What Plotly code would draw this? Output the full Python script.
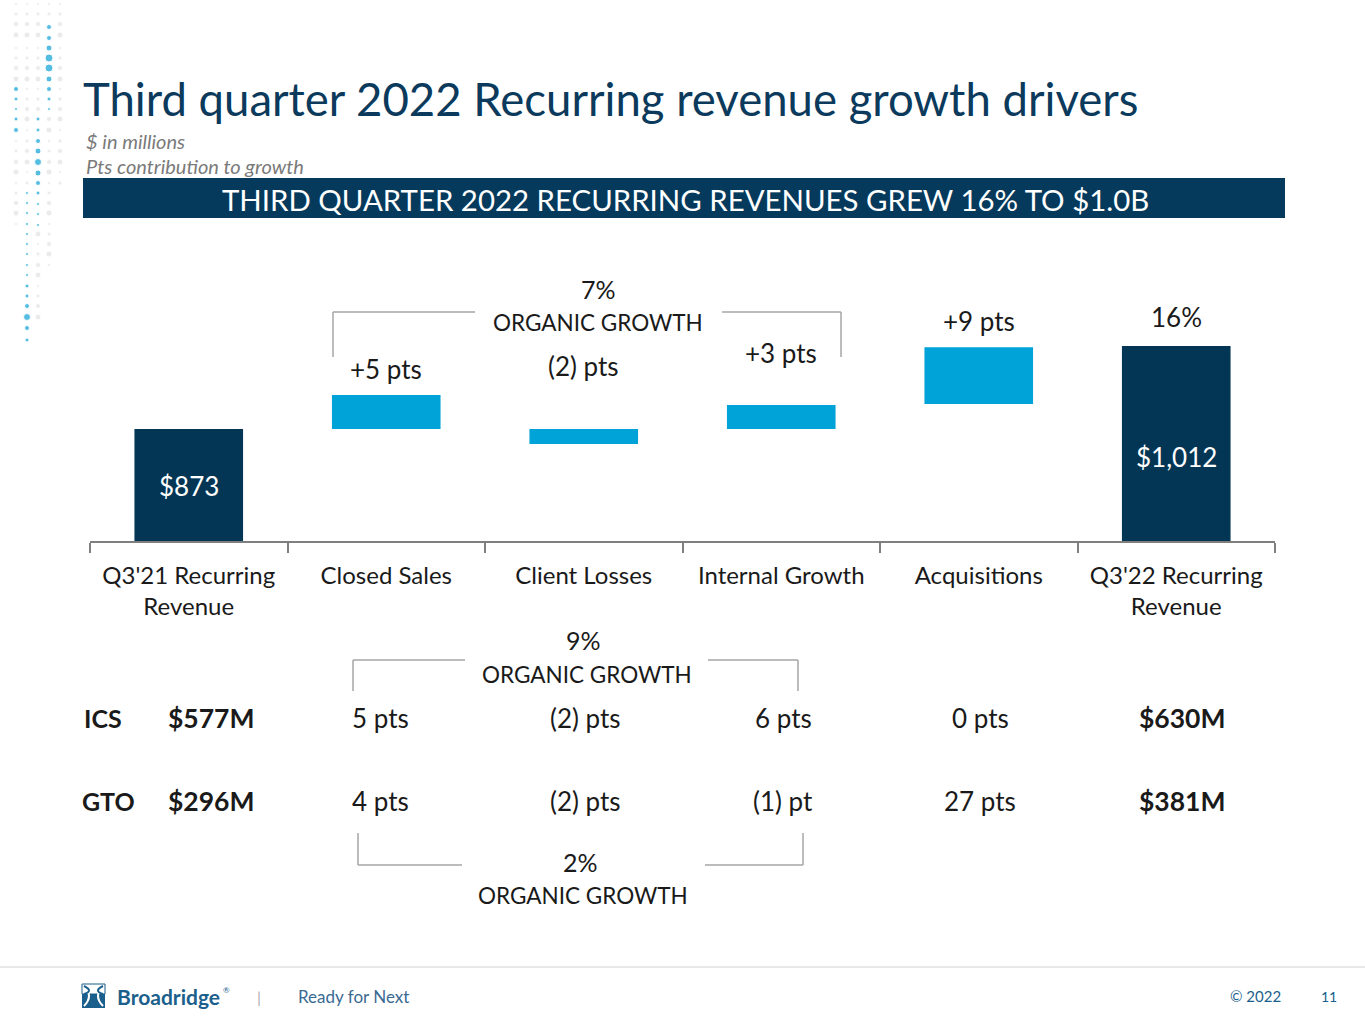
import plotly.graph_objects as go

# page size in px
W, H = 1365, 1024

# --- chart data ($ in millions) ---
categories = ["Q3'21 Recurring<br>Revenue", "Closed Sales", "Client Losses",
              "Internal Growth", "Acquisitions", "Q3'22 Recurring<br>Revenue"]
axis_floor = 685.4
bar_bottom = [axis_floor, 873, 848, 873, 915, axis_floor]
bar_top = [873, 930, 873, 913, 1010, 1012]
bar_kind = ["total", "delta", "delta", "delta", "delta", "total"]
inside_labels = ["$873", "", "", "", "", "$1,012"]
inside_label_y = [486, 0, 0, 0, 0, 457]  # px on the slide
top_labels = ["", "+5 pts", "(2) pts", "+3 pts", "+9 pts", "16%"]
top_label_y = [0, 369, 366, 353, 321, 317]  # px on the slide

# segment table under the chart
seg_names = ["ICS", "GTO"]
seg_start = ["$577M", "$296M"]
seg_pts = [["5 pts", "(2) pts", "6 pts", "0 pts"],
           ["4 pts", "(2) pts", "(1) pt", "27 pts"]]
seg_end = ["$630M", "$381M"]
organic = ["7%", "9%", "2%"]

NAVY = "#033654"
BLUE = "#00a3d7"
TXT = "#1a1a1a"
GRAY = "#a6a6a6"
FONT = "Lato"


def px(x):
    return x / W


def py(y):
    return 1 - y / H


fig = go.Figure()

colors = [NAVY if k == "total" else BLUE for k in bar_kind]
fig.add_trace(go.Bar(
    x=categories, y=[t - b for t, b in zip(bar_top, bar_bottom)], base=bar_bottom, width=0.55,
    marker=dict(color=colors, line=dict(width=0)),
    hoverinfo="skip", showlegend=False,
))

# decorative dot pattern top-left (separate full-page axis in pixels)
dots_blue = [(49, y, s) for y, s in zip([27, 38, 48, 58, 68, 79, 89, 99, 109], [5, 5, 6, 8, 8, 6, 5, 4, 3])]
dots_blue += [(16, y, s) for y, s in zip([89, 99, 109, 119, 130], [5, 4, 3, 4, 5])]
dots_blue += [(38, y, s) for y, s in zip([119, 130, 141, 151, 162, 173, 183, 193, 204, 214, 225],
                                         [4, 4, 5, 6, 7, 6, 5, 4, 3, 3, 3])]
dots_blue += [(27, y, s) for y, s in zip([193, 203, 213, 224, 234, 244, 254, 265, 275, 286, 296, 306, 317, 328, 340],
                                         [3, 3, 3, 3, 3, 3, 3, 3, 3, 4, 4, 5, 7, 5, 4])]
gray_cols = {16: [4, 14, 24, 35, 48, 58, 68, 79, 141, 151, 162, 172, 183, 193, 203, 213, 224],
             27: [4, 14, 24, 35, 48, 58, 68, 79, 89, 99, 109, 119, 130, 141, 151, 162, 172, 183],
             38: [4, 14, 24, 35, 48, 58, 68, 79, 89, 99, 109, 234, 244, 254, 265, 275, 286, 296, 306, 317],
             49: [4, 14, 119, 130, 141, 151, 162, 172, 183, 193, 203, 213, 224, 234, 244, 254, 265],
             60: [4, 14, 24, 35, 48, 58, 68, 79, 89, 99, 109, 119, 130, 141, 151, 162, 172, 183]}
gx, gy, gs = [], [], []
for cx, ys in gray_cols.items():
    for i, yy in enumerate(ys):
        gx.append(cx)
        gy.append(yy)
        gs.append(3 + (i % 4))
fig.add_trace(go.Scatter(x=gx, y=gy, mode="markers", xaxis="x2", yaxis="y2",
                         marker=dict(color="#e3e3e3", size=gs), hoverinfo="skip", showlegend=False))
fig.add_trace(go.Scatter(x=[d[0] for d in dots_blue], y=[d[1] for d in dots_blue], mode="markers",
                         xaxis="x2", yaxis="y2", marker=dict(color="#0ea0d6", size=[d[2] for d in dots_blue]),
                         hoverinfo="skip", showlegend=False))

shapes = []
# banner
shapes.append(dict(type="rect", xref="paper", yref="paper", x0=px(83), x1=px(1285), y0=py(218), y1=py(178),
                   fillcolor="#053a5c", line=dict(width=0), layer="below"))


def bracket(xl, xr, y_h, y_end, gap_l, gap_r):
    # two open halves of a bracket, gray
    for x0, x1, xv in [(xl, gap_l, xl), (gap_r, xr, xr)]:
        shapes.append(dict(type="line", xref="paper", yref="paper", x0=px(x0), x1=px(x1), y0=py(y_h), y1=py(y_h),
                           line=dict(color=GRAY, width=1.5)))
        shapes.append(dict(type="line", xref="paper", yref="paper", x0=px(xv), x1=px(xv), y0=py(y_h), y1=py(y_end),
                           line=dict(color=GRAY, width=1.5)))


bracket(333, 841, 312, 357, 475, 722)
bracket(353, 798, 660, 691, 465, 708)
bracket(358, 803, 865, 833, 462, 705)

# footer rule
shapes.append(dict(type="line", xref="paper", yref="paper", x0=0, x1=1, y0=py(967), y1=py(967),
                   line=dict(color="#d0d0d0", width=1)))
# logo mark
shapes.append(dict(type="rect", xref="paper", yref="paper", x0=px(82), x1=px(105), y0=py(1008), y1=py(984),
                   fillcolor="#1b5f8c", line=dict(width=0)))
shapes.append(dict(type="rect", xref="paper", yref="paper", x0=px(82), x1=px(105), y0=py(994), y1=py(984),
                   fillcolor="white", line=dict(color="#1b5f8c", width=1)))
shapes.append(dict(type="path", xref="paper", yref="paper",
                   path=f"M {px(84)},{py(986)} Q {px(94)},{py(996)} {px(84)},{py(1006)} "
                        f"M {px(103)},{py(986)} Q {px(93)},{py(996)} {px(103)},{py(1006)}",
                   line=dict(color="white", width=2)))
shapes.append(dict(type="path", xref="paper", yref="paper",
                   path=f"M {px(84)},{py(986)} Q {px(94)},{py(991)} {px(84)},{py(994)} "
                        f"M {px(103)},{py(986)} Q {px(93)},{py(991)} {px(103)},{py(994)}",
                   line=dict(color="#1b5f8c", width=2)))

ann = []


def txt(x, y, s, size=24, color=TXT, anchor="center", bold=False, italic=False, xref="paper"):
    if bold:
        s = f"<b>{s}</b>"
    if italic:
        s = f"<i>{s}</i>"
    ann.append(dict(x=px(x) if xref == "paper" else x, y=py(y), xref=xref, yref="paper", text=s,
                    showarrow=False, xanchor=anchor, yanchor="middle",
                    font=dict(family=FONT, size=size, color=color)))


# labels over and inside the bars
for c, lab, ly in zip(categories, top_labels, top_label_y):
    if lab:
        txt(c, ly, lab, size=26, xref="x")
for c, lab, ly in zip(categories, inside_labels, inside_label_y):
    if lab:
        txt(c, ly, lab, size=26, color="white", xref="x")

txt(81, 98, "Third quarter 2022 Recurring revenue growth drivers", size=45.5, color="#0b3a5c", anchor="left")
txt(84, 141, "$ in millions", size=20, color="#7a7a7a", anchor="left", italic=True)
txt(84, 166, "Pts contribution to growth", size=20, color="#7a7a7a", anchor="left", italic=True)
txt(685, 199, "THIRD QUARTER 2022 RECURRING REVENUES GREW 16% TO $1.0B", size=29.4, color="white")

# organic growth captions
txt(598, 289, organic[0], size=25)
txt(598, 322, "ORGANIC GROWTH", size=22.5)
txt(583, 640, organic[1], size=25)
txt(587, 674, "ORGANIC GROWTH", size=22.5)
txt(580, 862, organic[2], size=25)
txt(583, 895, "ORGANIC GROWTH", size=22.5)

# segment rows
col_x = [380, 585, 783, 980]
for row_y, name, start, pts, end, name_x in zip([718, 801], seg_names, seg_start, seg_pts, seg_end, [103, 108]):
    txt(name_x, row_y, name, size=25, bold=True)
    txt(211, row_y, start, size=26.5, bold=True)
    for cx, p in zip(col_x, pts):
        txt(cx, row_y, p, size=26)
    txt(1182, row_y, end, size=26.5, bold=True)

# footer
txt(115, 996, "Broadridge", size=21, color="#1b5f8c", anchor="left", bold=True)
txt(221, 990, "®", size=8, color="#1b5f8c", anchor="left")
txt(259, 996, "|", size=16, color="#b0b0b0")
txt(296, 996, "Ready for Next", size=17, color="#3a6a92", anchor="left")
txt(1255, 996, "© 2022", size=15, color="#1b5f8c")
txt(1329, 996, "11", size=14, color="#1b5f8c")

fig.update_layout(
    width=W, height=H,
    margin=dict(l=0, r=0, t=0, b=0),
    paper_bgcolor="white", plot_bgcolor="rgba(0,0,0,0)",
    shapes=shapes, annotations=ann,
    xaxis=dict(domain=[px(90), px(1275)], tickson="boundaries", ticks="outside", ticklen=10,
               tickcolor="#7f7f7f", tickwidth=1.5, showline=True, linecolor="#7f7f7f", linewidth=1.5,
               showgrid=False, tickfont=dict(family=FONT, size=24, color=TXT), ticklabelstandoff=12,
               fixedrange=True),
    yaxis=dict(domain=[py(541), py(230)], range=[axis_floor, 1206.3], visible=False, showgrid=False,
               fixedrange=True),
    xaxis2=dict(domain=[0, 1], range=[0, W], visible=False, anchor="y2", fixedrange=True),
    yaxis2=dict(domain=[0, 1], range=[H, 0], visible=False, anchor="x2", fixedrange=True),
    font=dict(family=FONT),
)

# page body margin off so the slide sits at 0,0
fig.write_html("out.html", config={"displayModeBar": False},
               post_script="document.body.style.margin='0';document.body.style.overflow='hidden';")
